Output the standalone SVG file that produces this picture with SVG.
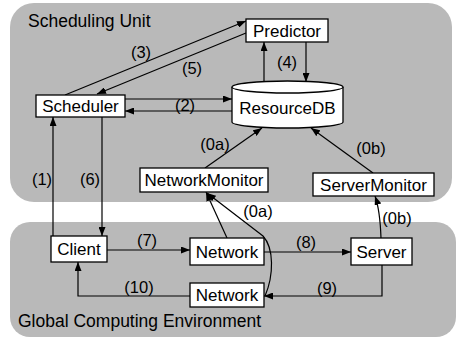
<svg xmlns="http://www.w3.org/2000/svg" width="459" height="340" viewBox="0 0 459 340">
<style>
.panel{fill:#b9b9b9;stroke:none}
.box{fill:#fff;stroke:#000;stroke-width:1.3}
.t{font-family:"Liberation Sans",Arial,sans-serif;font-size:17px;fill:#000;text-anchor:middle}
.pl{font-family:"Liberation Sans",Arial,sans-serif;font-size:17.5px;fill:#000}
.lb{font-family:"Liberation Sans",Arial,sans-serif;font-size:16.5px;fill:#000;text-anchor:middle}
.c{fill:none;stroke:#000;stroke-width:1.2;marker-end:url(#ah)}
</style>
<defs>
<marker id="ah" markerUnits="userSpaceOnUse" markerWidth="9" markerHeight="7" refX="9" refY="3.5" orient="auto">
<path d="M0,0 L9,3.5 L0,7 z" fill="#000"/>
</marker>
</defs>
<rect width="459" height="340" fill="#fff"/>
<g id="scheduling-unit">
<rect class="panel" x="10" y="3" width="442" height="199" rx="24" ry="24"/>
<text class="pl" x="28" y="27">Scheduling Unit</text>
</g>
<g id="global-computing-environment">
<rect class="panel" x="10" y="222" width="446" height="115" rx="20" ry="20"/>
<text class="pl" x="18" y="327">Global Computing Environment</text>
</g>
<g id="connectors">
<path class="c" d="M65,95 L246,21"/>
<path class="c" d="M246,33 L97,94"/>
<path class="c" d="M125,99 L232,99"/>
<path class="c" d="M232,111 L125,111"/>
<path class="c" d="M264,83 L264,42"/>
<path class="c" d="M306,42 L306,82"/>
<path class="c" d="M205,168 L262,128"/>
<path class="c" d="M373,173 L311,128"/>
<path class="c" d="M53,236 L53,117"/>
<path class="c" d="M102,117 L102,236"/>
<path class="c" d="M107,250 L190,250"/>
<path class="c" d="M264,252 L351,252"/>
<path class="c" d="M382,265 L382,296 L264,296"/>
<path class="c" d="M190,296 L78,296 L78,262"/>
<path class="c" d="M381,238 Q380,210 375,196"/>
<path class="c" d="M227,238 L206,192"/>
<path class="c" d="M265,296 C274,275 274,248 263,236 L207,193"/>
<text class="lb" x="141" y="58">(3)</text>
<text class="lb" x="192" y="74">(5)</text>
<text class="lb" x="185" y="111">(2)</text>
<text class="lb" x="287" y="68">(4)</text>
<text class="lb" x="215" y="150">(0a)</text>
<text class="lb" x="371" y="154">(0b)</text>
<text class="lb" x="42" y="185">(1)</text>
<text class="lb" x="90" y="185">(6)</text>
<text class="lb" x="147" y="246">(7)</text>
<text class="lb" x="306" y="248">(8)</text>
<text class="lb" x="327" y="294">(9)</text>
<text class="lb" x="139" y="293">(10)</text>
<text class="lb" x="258" y="217">(0a)</text>
<text class="lb" x="397" y="224">(0b)</text>
</g>
<g id="predictor">
<rect class="box" x="246" y="19" width="82" height="23"/>
<text class="t" x="287" y="37">Predictor</text>
</g>
<g id="scheduler">
<rect class="box" x="36" y="95" width="89" height="22"/>
<text class="t" x="80.5" y="112">Scheduler</text>
</g>
<g id="resourcedb">
<path class="box" d="M232,87 A55.5,6 0 0 1 343,87 L343,122 A55.5,6 0 0 1 232,122 Z"/>
<path class="box" d="M232,87 A55.5,6 0 0 0 343,87" fill="none"/>
<text class="t" x="287.5" y="114">ResourceDB</text>
</g>
<g id="networkmonitor">
<rect class="box" x="140" y="168" width="128" height="24"/>
<text class="t" x="204" y="186">NetworkMonitor</text>
</g>
<g id="servermonitor">
<rect class="box" x="313" y="173" width="121" height="23"/>
<text class="t" x="373.5" y="190.5">ServerMonitor</text>
</g>
<g id="client">
<rect class="box" x="51" y="236" width="56" height="26"/>
<text class="t" x="79" y="255">Client</text>
</g>
<g id="network-top">
<rect class="box" x="190" y="238" width="74" height="27"/>
<text class="t" x="227" y="257.5">Network</text>
</g>
<g id="network-bottom">
<rect class="box" x="190" y="283" width="74" height="24"/>
<text class="t" x="227" y="301">Network</text>
</g>
<g id="server">
<rect class="box" x="351" y="238" width="61" height="27"/>
<text class="t" x="381.5" y="257.5">Server</text>
</g>
</svg>
